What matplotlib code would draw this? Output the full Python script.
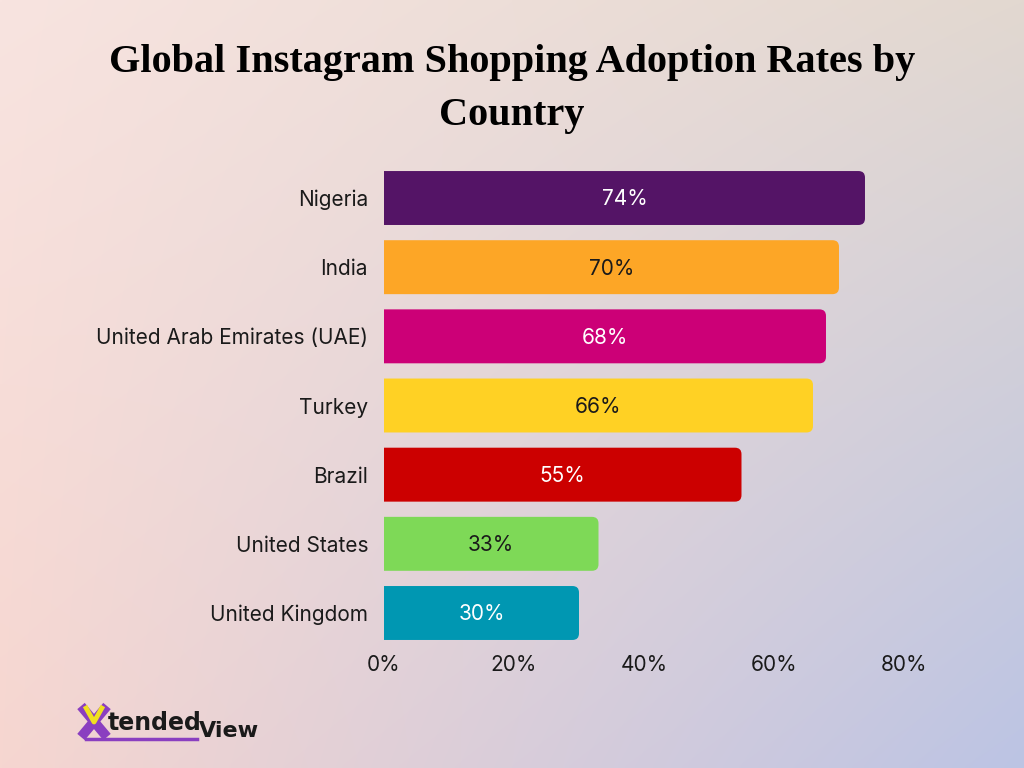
import matplotlib.pyplot as plt
import numpy as np
from matplotlib.patches import FancyBboxPatch
from matplotlib.ticker import FuncFormatter

countries = ["Nigeria", "India", "United Arab Emirates (UAE)", "Turkey",
             "Brazil", "United States", "United Kingdom"]
rates = [74, 70, 68, 66, 55, 33, 30]
bar_colors = ["#541466", "#fda626", "#cc0077", "#ffd124",
              "#cc0000", "#7ed957", "#0097b2"]
label_colors = ["white", "#1a1a1a", "white", "#1a1a1a",
                "white", "#1a1a1a", "white"]
x_ticks = [0, 20, 40, 60, 80]

fig = plt.figure(figsize=(10.24, 7.68), dpi=100)

# gradient background from four corner colours
bg = fig.add_axes([0, 0, 1, 1], zorder=-10)
tl = np.array([248, 228, 224]) / 255
tr = np.array([226, 216, 208]) / 255
bl = np.array([246, 214, 208]) / 255
br = np.array([188, 196, 228]) / 255
u = np.linspace(0, 1, 256)[None, :, None]
v = np.linspace(0, 1, 192)[:, None, None]
img = (1 - v) * ((1 - u) * tl + u * tr) + v * ((1 - u) * bl + u * br)
bg.imshow(img, aspect="auto", extent=[0, 1, 0, 1], interpolation="bilinear")
bg.set_xlim(0, 1)
bg.set_ylim(0, 1)
bg.axis("off")

ax = fig.add_axes([0.375, 0.1568, 0.8828 - 0.375, 0.7872 - 0.1568])
ax.patch.set_alpha(0)

ypos = np.arange(len(countries))[::-1]
bars = ax.barh(ypos, rates, height=0.78, color=bar_colors)

ax.set_xlim(0, 80)
ax.set_ylim(-0.5, len(countries) - 0.5)

# swap plain bars for rounded ones (left edge pushed past the axis so it stays square)
px_x = (0.8828 - 0.375) * 1024 / 80
px_y = (0.7872 - 0.1568) * 768 / 7
for b, c in zip(bars, bar_colors):
    b.set_visible(False)
    x0, y0, w, h = b.get_x(), b.get_y(), b.get_width(), b.get_height()
    p = FancyBboxPatch((x0 - 2, y0), w + 2, h,
                       boxstyle="round,pad=0,rounding_size=1.0",
                       mutation_aspect=px_x / px_y,
                       facecolor=c, edgecolor="none", clip_on=True)
    ax.add_patch(p)

for y, r, tc in zip(ypos, rates, label_colors):
    ax.text(r / 2, y - 0.02, f"{r}%", ha="center", va="center",
            fontsize=15, color=tc, family="Inter")

ax.set_yticks(ypos)
ax.set_yticklabels(countries, fontsize=15, family="Inter", color="#1a1a1a")
ax.set_xticks(x_ticks)
ax.xaxis.set_major_formatter(FuncFormatter(lambda x, _: f"{x:.0f}%"))
for t in ax.get_xticklabels():
    t.set_fontsize(15)
    t.set_family("Inter")
    t.set_color("#1a1a1a")
ax.tick_params(axis="both", length=0)
ax.tick_params(axis="y", pad=11.5)
ax.tick_params(axis="x", pad=5)
for s in ax.spines.values():
    s.set_visible(False)

fig.text(0.5, 0.884, "Global Instagram Shopping Adoption Rates by\nCountry",
         ha="center", va="center", fontsize=29, fontweight="bold",
         family="Liberation Serif", color="black", linespacing=1.6)

# logo mark: purple X with a yellow V, then the wordmark
def fx(px):
    return px / 1024


def fy(py):
    return 1 - py / 768


fig.add_artist(plt.Line2D([fx(81), fx(107)], [fy(706), fy(737)],
                          color="#8a3fc0", lw=7, solid_capstyle="butt"))
fig.add_artist(plt.Line2D([fx(107), fx(81)], [fy(706), fy(737)],
                          color="#8a3fc0", lw=7, solid_capstyle="butt"))
fig.add_artist(plt.Line2D([fx(85), fx(94), fx(103)], [fy(706), fy(722), fy(706)],
                          color="#f0e020", lw=3.5, solid_capstyle="butt"))
fig.add_artist(plt.Line2D([fx(86), fx(197)], [fy(739), fy(739)],
                          color="#8a3fc0", lw=2.5))
fig.text(fx(108), fy(730), "tended", fontsize=17, fontweight="bold", color="#1a1a1a",
         family="DejaVu Sans", ha="left", va="baseline")
fig.text(fx(199), fy(737), "View", fontsize=16, fontweight="bold", color="#1a1a1a",
         family="DejaVu Sans", ha="left", va="baseline")

fig.savefig("out.png", dpi=100)
